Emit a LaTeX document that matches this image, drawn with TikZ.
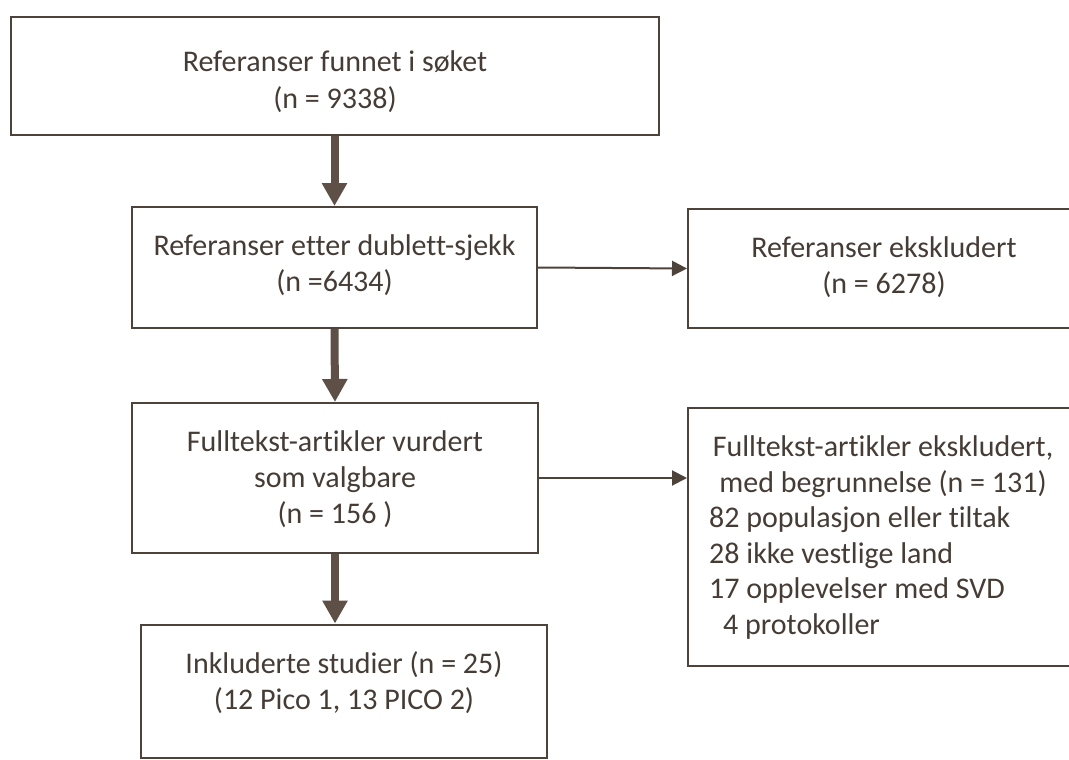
\documentclass[tikz,border=0pt]{standalone}
\usepackage{fontspec}
\setmainfont{Carlito}[Ligatures={NoCommon,NoRare}]
\usetikzlibrary{arrows.meta}
\definecolor{ln}{HTML}{4E433B}
\definecolor{ar}{HTML}{5F5047}
\definecolor{tx}{HTML}{463C36}
\tikzset{
  box/.style={draw=ln, line width=2pt, rectangle, inner sep=0pt, fill=white},
  txt/.style={anchor=base, inner sep=0pt, text=tx, font=\fontsize{30}{36}\selectfont},
  txtl/.style={anchor=base west, inner sep=0pt, text=tx, font=\fontsize{30}{36}\selectfont},
  bigarrow/.style={draw=ar, line width=8pt, -{Triangle[width=24pt,length=23pt]}},
  thinarrow/.style={draw=ln, line width=2pt, -{Triangle[width=15pt,length=15pt]}}
}
\begin{document}
\begin{tikzpicture}[x=1pt,y=-1pt]
\useasboundingbox (0,0) rectangle (1069,760);
\fill[white] (0,0) rectangle (1069,760);
% boxes
\node[box, minimum width=648pt, minimum height=118pt] (b1) at (335,76) {};
\node[box, minimum width=405pt, minimum height=121pt] (b2) at (334.5,267.5) {};
\node[box, minimum width=392pt, minimum height=119pt] (b3) at (884,268.5) {};
\node[box, minimum width=406pt, minimum height=150pt] (b5) at (335,478) {};
\node[box, minimum width=392pt, minimum height=258pt] (b4) at (884,537) {};
\node[box, minimum width=406pt, minimum height=133pt] (b6) at (344,691) {};
% texts
\node[txt] (t1a) at (335,71) {Referanser funnet i søket};
\node[txt] (t1b) at (335,108) {(n = 9338)};
\node[txt] (t2a) at (334.5,255) {Referanser etter dublett-sjekk};
\node[txt] (t2b) at (334.5,291) {(n =6434)};
\node[txt] (t3a) at (884,257) {Referanser ekskludert};
\node[txt] (t3b) at (884,293) {(n = 6278)};
\node[txt] (t5a) at (335,451) {Fulltekst-artikler vurdert};
\node[txt] (t5b) at (335,487) {som valgbare};
\node[txt] (t5c) at (335,523) {(n = 156 )};
\node[txt] (t4a) at (883,456) {Fulltekst-artikler ekskludert,};
\node[txt] (t4b) at (883,492) {med begrunnelse (n = 131)};
\node[txtl] (t4c) at (709,527) {82 populasjon eller tiltak};
\node[txtl] (t4d) at (709,563) {28 ikke vestlige land};
\node[txtl] (t4e) at (709,598) {17 opplevelser med SVD};
\node[txtl] (t4f) at (723,634) {4 protokoller};
\node[txt] (t6a) at (344,673) {Inkluderte studier (n = 25)};
\node[txt] (t6b) at (344,709) {(12 Pico 1, 13 PICO 2)};
% connectors
\draw[bigarrow] (b2.north |- b1.south) -- (b2.north);
\draw[bigarrow] (b2.south) -- (b5.north);
\draw[bigarrow] (b5.south) -- (b5.south |- b6.north);
\draw[thinarrow] (b2.east) -- (b3.west);
\draw[thinarrow] (b5.east) -- (b4.west |- b5.east);
\end{tikzpicture}
\end{document}
